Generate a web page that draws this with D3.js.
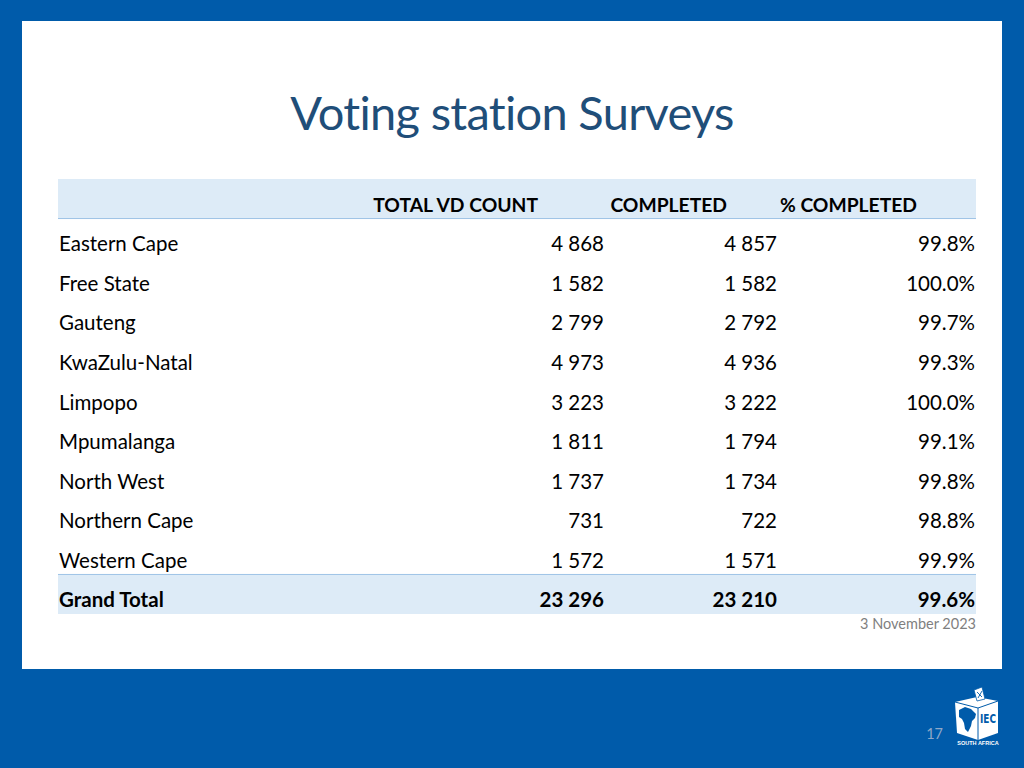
<!DOCTYPE html>
<html lang="en">
    <head>
        <title>Voting station Surveys</title>
        <script src="https://d3js.org/d3.v7.min.js"></script>
        <style>
            body { margin: 0; background: #005baa; }
            text { font-family: Lato, "Open Sans", sans-serif; }
        </style>
    </head>
    <body>
    <div id="mainDiv"></div>

        <script type="text/javascript">
            const provinces = ['Eastern Cape', 'Free State', 'Gauteng', 'KwaZulu-Natal', 'Limpopo',
                'Mpumalanga', 'North West', 'Northern Cape', 'Western Cape']
            const totalVd = [4868, 1582, 2799, 4973, 3223, 1811, 1737, 731, 1572]
            const completed = [4857, 1582, 2792, 4936, 3222, 1794, 1734, 722, 1571]
            const pctCompleted = [99.8, 100.0, 99.7, 99.3, 100.0, 99.1, 99.8, 98.8, 99.9]
            const grandTotal = { name: 'Grand Total', total: 23296, done: 23210, pct: 99.6 }
            const headers = ['TOTAL VD COUNT', 'COMPLETED', '% COMPLETED']

            const width = 1024
            const height = 768

            const svg = d3.select('#mainDiv').append('svg')
                .attr('width', width)
                .attr('height', height)

            // background + white slide panel
            svg.append('rect').attr('width', width).attr('height', height).attr('fill', '#005baa')
            svg.append('rect')
                .attr('x', 22).attr('y', 21)
                .attr('width', 980).attr('height', 648)
                .attr('fill', '#ffffff')

            svg.append('text')
                .attr('x', 512).attr('y', 130)
                .attr('text-anchor', 'middle')
                .attr('font-size', 47)
                .attr('fill', '#1f4e79')
                .attr('letter-spacing', -0.7)
                .text('Voting station Surveys')

            const tableLeft = 58
            const tableRight = 976

            // rows: header, 9 provinces, grand total
            const rowKeys = ['header'].concat(provinces).concat(['total'])
            const y = d3.scaleBand()
                .domain(rowKeys)
                .range([179, 614])

            const fmt = d3.format(',')
            const num = v => fmt(v).replace(/,/g, ' ')
            const pct = v => v.toFixed(1) + '%'
            const baseShift = 13

            // header band
            svg.append('rect')
                .attr('x', tableLeft).attr('y', y('header'))
                .attr('width', tableRight - tableLeft).attr('height', y.bandwidth())
                .attr('fill', '#ddebf7')
            svg.append('line')
                .attr('x1', tableLeft).attr('x2', tableRight)
                .attr('y1', y('header') + y.bandwidth()).attr('y2', y('header') + y.bandwidth())
                .attr('stroke', '#9dc3e6').attr('stroke-width', 1)

            // grand total band
            svg.append('rect')
                .attr('x', tableLeft).attr('y', y('total'))
                .attr('width', tableRight - tableLeft).attr('height', y.bandwidth())
                .attr('fill', '#ddebf7')
            svg.append('line')
                .attr('x1', tableLeft).attr('x2', tableRight)
                .attr('y1', y('total')).attr('y2', y('total'))
                .attr('stroke', '#9dc3e6').attr('stroke-width', 1)

            const headerX = [538, 727, 917]
            svg.selectAll('text.head')
                .data(headers)
                .enter()
                .append('text')
                .attr('class', 'head')
                .attr('x', (d, i) => headerX[i])
                .attr('y', y('header') + y.bandwidth() / 2 + baseShift)
                .attr('text-anchor', 'end')
                .attr('font-size', 19.3)
                .attr('font-weight', 'bold')
                .attr('fill', '#000')
                .text(d => d)

            const rows = provinces.map((p, i) => ({
                key: p, name: p, total: totalVd[i], done: completed[i], pct: pctCompleted[i], bold: false
            }))
            rows.push(Object.assign({ key: 'total', bold: true }, grandTotal))

            const colX = [604, 777, 975]
            const rowG = svg.selectAll('g.row')
                .data(rows)
                .enter()
                .append('g')
                .attr('class', 'row')
                .attr('transform', d => `translate(0, ${y(d.key) + y.bandwidth() / 2 + baseShift})`)
                .attr('font-size', 20.5)
                .attr('font-weight', d => d.bold ? 'bold' : 'normal')
                .attr('fill', '#000')

            rowG.append('text').attr('x', 59).text(d => d.name)
            rowG.append('text').attr('x', colX[0]).attr('text-anchor', 'end').text(d => num(d.total))
            rowG.append('text').attr('x', colX[1]).attr('text-anchor', 'end').text(d => num(d.done))
            rowG.append('text').attr('x', colX[2]).attr('text-anchor', 'end').text(d => pct(d.pct))

            svg.append('text')
                .attr('x', 976).attr('y', 629)
                .attr('text-anchor', 'end')
                .attr('font-size', 14.5)
                .attr('fill', '#7f7f7f')
                .text('3 November 2023')

            // page number
            svg.append('text')
                .attr('x', 943).attr('y', 739)
                .attr('text-anchor', 'end')
                .attr('font-size', 14.5)
                .attr('fill', '#8fa8c8')
                .text('17')

            // IEC logo (simplified ballot box)
            const logo = svg.append('g').attr('transform', 'translate(955, 688)')
            logo.append('path')
                .attr('d', 'M0,14 L22,9 L43,13 L43,45 L23,52 L2,45 Z')
                .attr('fill', '#fff')
            logo.append('path')
                .attr('d', 'M0,14 L23,20 L43,13')
                .attr('fill', 'none').attr('stroke', '#005baa').attr('stroke-width', 1)
            logo.append('path')
                .attr('d', 'M19,2 L27,-1 L30,11 L22,13 Z')
                .attr('fill', '#fff').attr('stroke', '#005baa').attr('stroke-width', 0.8)
            logo.append('path')
                .attr('d', 'M22,4 L27,9 M27,3 L23,10')
                .attr('stroke', '#005baa').attr('stroke-width', 0.9)
            logo.append('line')
                .attr('x1', 23).attr('x2', 23).attr('y1', 20).attr('y2', 52)
                .attr('stroke', '#005baa').attr('stroke-width', 1)
            logo.append('path')
                .attr('d', 'M4,22 L10,19 L16,21 L19,24 L21,26 L20,30 L17,33 L16,38 L13,44 L10,41 L9,35 L7,31 L4,29 Z')
                .attr('fill', '#005baa')
            logo.append('text')
                .attr('x', 33).attr('y', 35)
                .attr('text-anchor', 'middle')
                .attr('font-size', 13)
                .attr('font-weight', 'bold')
                .attr('fill', '#005baa')
                .attr('textLength', 16)
                .attr('lengthAdjust', 'spacingAndGlyphs')
                .style('font-family', '"DejaVu Sans Condensed", "Liberation Sans", sans-serif')
                .text('IEC')
            logo.append('text')
                .attr('x', 23).attr('y', 57)
                .attr('text-anchor', 'middle')
                .attr('font-size', 5.5)
                .attr('font-weight', 'bold')
                .attr('fill', '#fff')
                .style('font-family', '"Liberation Sans", sans-serif')
                .text('SOUTH AFRICA')
        </script>
    </body>
</html>
